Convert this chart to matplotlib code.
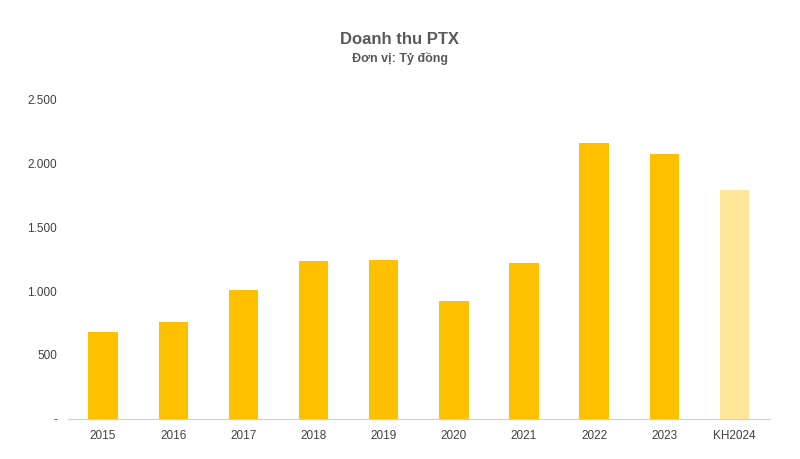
import matplotlib.pyplot as plt
import numpy as np

years = ['2015', '2016', '2017', '2018', '2019', '2020', '2021', '2022', '2023', 'KH2024']
revenue = [682, 760, 1011, 1238, 1246, 925, 1222, 2163, 2077, 1795]
colors = ['#FFC000'] * 9 + ['#FFE699']
yticks = [0, 500, 1000, 1500, 2000, 2500]
ylabels = ['-', '500', '1.000', '1.500', '2.000', '2.500']

plt.rcParams['font.family'] = ['Liberation Sans', 'DejaVu Sans']
fig = plt.figure(figsize=(8, 4.59), dpi=100)
ax = fig.add_axes([0.085, 0.088, 0.877, 0.695])

x = np.arange(len(years))
ax.bar(x, revenue, width=0.42, color=colors)
ax.set_xlim(-0.5, len(years) - 0.5)
ax.set_ylim(0, 2500)
ax.set_xticks(x)
ax.set_xticklabels(years, fontsize=8.5, color='#404040')
ax.set_yticks(yticks)
ax.set_yticklabels(ylabels, fontsize=8.5, color='#404040')
ax.tick_params(length=0, pad=8)
for s in ['top', 'right', 'left']:
    ax.spines[s].set_visible(False)
ax.spines['bottom'].set_color('#d0d0d0')

fig.text(0.5, 0.905, 'Doanh thu PTX', ha='center', fontsize=12, fontweight='bold', color='#595959')
fig.text(0.5, 0.865, 'Đơn vị: Tỷ đồng', ha='center', fontsize=9, fontweight='bold', color='#595959')

fig.savefig('out.png', dpi=100)
